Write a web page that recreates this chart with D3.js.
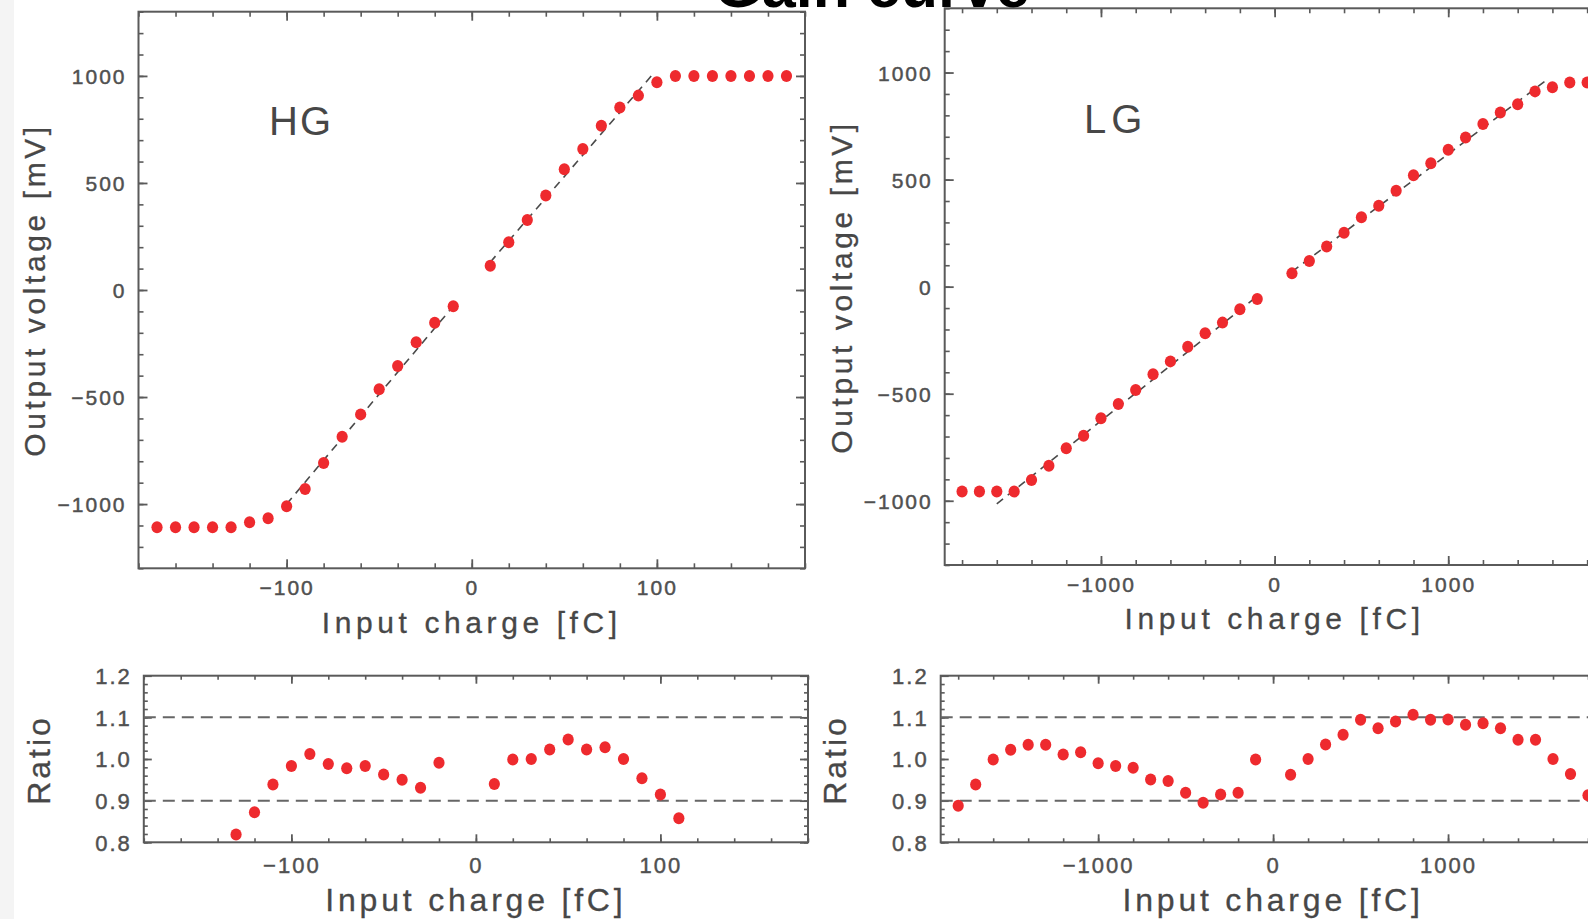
<!DOCTYPE html>
<html>
<head>
<meta charset="utf-8">
<script src="https://cdn.jsdelivr.net/npm/d3@7"></script>
<style>
  html, body { margin: 0; padding: 0; background: #fff; }
  svg { display: block; }
  text { font-family: "Liberation Sans", Arial, Helvetica, sans-serif; }
</style>
</head>
<body>
<svg id="chart" width="1588" height="919"></svg>
<script>
// ---- data ----------------------------------------------------------------
// High-gain channel: transfer curve (fC -> mV)
const hgCharge = [-170, -160, -150, -140, -130, -120, -110, -100, -90, -80, -70, -60, -50, -40, -30, -20, -10,
                  10, 20, 30, 40, 50, 60, 70, 80, 90, 100, 110, 120, 130, 140, 150, 160, 170];
const hgVoltage = [-1108, -1108, -1108, -1108, -1108, -1085, -1066, -1010, -930, -808, -685, -581, -464, -355, -244, -153, -76,
                   113, 223, 327, 441, 564, 659, 767, 853, 908, 970, 1000, 1000, 1000, 1000, 1000, 1000, 1000];
// linear fits of the two polarities
const hgFitNeg = [[-100, -1000], [-8, -55]];
const hgFitPos = [[10, 130], [98, 1010]];

// High-gain channel: ratio to the fit
const hgRatioCharge = [-130, -120, -110, -100, -90, -80, -70, -60, -50, -40, -30, -20,
                       10, 20, 30, 40, 50, 60, 70, 80, 90, 100, 110];
const hgRatio = [0.819, 0.872, 0.939, 0.983, 1.012, 0.988, 0.978, 0.983, 0.963, 0.950, 0.931, 0.991,
                 0.940, 0.999, 1.000, 1.023, 1.047, 1.023, 1.028, 1.000, 0.954, 0.915, 0.858];

// Low-gain channel: transfer curve (fC -> mV)
const lgCharge = [-1800, -1700, -1600, -1500, -1400, -1300, -1200, -1100, -1000, -900, -800, -700, -600, -500, -400, -300, -200, -100,
                  100, 200, 300, 400, 500, 600, 700, 800, 900, 1000, 1100, 1200, 1300, 1400, 1500, 1600, 1700, 1800];
const lgVoltage = [-957, -957, -957, -957, -903, -836, -755, -696, -615, -548, -483, -409, -349, -281, -218, -168, -106, -58,
                   62, 120, 187, 252, 324, 378, 448, 520, 576, 639, 697, 760, 813, 852, 912, 931, 953, 954];
const lgFitNeg = [[-1600, -1015], [-100, -45]];
const lgFitPos = [[100, 70], [1578, 972]];

// Low-gain channel: ratio to the fit
const lgRatioCharge = [-1800, -1700, -1600, -1500, -1400, -1300, -1200, -1100, -1000, -900, -800, -700, -600, -500, -400, -300, -200, -100,
                       100, 200, 300, 400, 500, 600, 700, 800, 900, 1000, 1100, 1200, 1300, 1400, 1500, 1600, 1700, 1800];
const lgRatio = [0.888, 0.939, 0.999, 1.022, 1.034, 1.034, 1.011, 1.016, 0.990, 0.983, 0.979, 0.951, 0.947, 0.919, 0.895, 0.915, 0.919, 0.999,
                 0.962, 1.000, 1.035, 1.058, 1.094, 1.074, 1.090, 1.106, 1.094, 1.095, 1.082, 1.086, 1.074, 1.046, 1.046, 1.000, 0.964, 0.913];

// ratio tolerance band
const ratioBand = [0.9, 1.1];

// axis labels / titles
const titleText = "Gain curve";
const xTitle = "Input charge [fC]";
const yTitleMain = "Output voltage [mV]";
const yTitleRatio = "Ratio";
const channelNames = ["HG", "LG"];

// ---- drawing -------------------------------------------------------------
const svg = d3.select("#chart");
svg.append("rect").attr("width", 1588).attr("height", 919).attr("fill", "#fff");
svg.append("rect").attr("x", 0).attr("y", 0).attr("width", 14).attr("height", 919).attr("fill", "#f4f4f4");

const AXIS = "#5a5a5a";
const TEXT = "#474747";
const DOT = "#ee2a2e";

function panel(o) {
  const g = svg.append("g");
  const x = d3.scaleLinear().domain(o.xDomain).range([o.left, o.right]);
  const y = d3.scaleLinear().domain(o.yDomain).range([o.bottom, o.top]);

  const fmtX = d3.format("d");
  const fmtY = o.yFmt;

  function tickAxis(axisFn, scale, major, minor, fmt, pos, labels, bigTick, smallTick) {
    // minor ticks
    const gm = g.append("g").attr("transform", pos)
      .call(axisFn(scale).tickValues(minor).tickSize(-smallTick).tickSizeOuter(0).tickFormat(""));
    gm.select(".domain").remove();
    gm.selectAll("line").attr("stroke", AXIS).attr("stroke-width", 1.6);
    // major ticks
    const ga = g.append("g").attr("transform", pos)
      .call(axisFn(scale).tickValues(major).tickSize(-bigTick).tickSizeOuter(0)
            .tickFormat(labels ? fmt : "").tickPadding(o.tickPad));
    ga.select(".domain").remove();
    ga.selectAll("line").attr("stroke", AXIS).attr("stroke-width", 1.8);
    ga.selectAll("text")
      .attr("fill", "#505050")
      .attr("stroke", "#505050")
      .attr("stroke-width", 0.45)
      .style("font-size", o.tickFont + "px")
      .style("letter-spacing", "2px");
    return ga;
  }

  const xMaj = o.xMajor, xMin = o.xMinor, yMaj = o.yMajor, yMin = o.yMinor;
  const bx = tickAxis(d3.axisBottom, x, xMaj, xMin, fmtX, `translate(0,${o.bottom})`, true, o.bigTick, o.smallTick);
  bx.selectAll("text").attr("dy", null).attr("y", o.xLabelDy);
  tickAxis(d3.axisTop, x, xMaj, xMin, fmtX, `translate(0,${o.top})`, false, o.bigTick, o.smallTick);
  const ly = tickAxis(d3.axisLeft, y, yMaj, yMin, fmtY, `translate(${o.left},0)`, true, o.bigTick, o.smallTick);
  ly.selectAll("text").attr("x", -o.yLabelGap).attr("dy", "0.36em");
  tickAxis(d3.axisRight, y, yMaj, yMin, fmtY, `translate(${o.right},0)`, false, o.bigTick, o.smallTick);

  // frame
  g.append("rect")
    .attr("x", o.left).attr("y", o.top)
    .attr("width", o.right - o.left).attr("height", o.bottom - o.top)
    .attr("fill", "none").attr("stroke", AXIS).attr("stroke-width", 2);

  // axis titles
  g.append("text")
    .attr("x", (o.left + o.right) / 2).attr("y", o.xTitleY)
    .attr("text-anchor", "middle")
    .attr("fill", TEXT)
    .attr("stroke", TEXT).attr("stroke-width", 0.3)
    .style("font-size", o.titleFont + "px")
    .style("letter-spacing", o.titleSpacing + "px")
    .text(xTitle);
  g.append("text")
    .attr("transform", `translate(${o.yTitleX},${o.yTitleY}) rotate(-90)`)
    .attr("text-anchor", "middle")
    .attr("fill", TEXT)
    .attr("stroke", TEXT).attr("stroke-width", 0.3)
    .style("font-size", o.yTitleFont + "px")
    .style("letter-spacing", o.yTitleSpacing + "px")
    .text(o.yTitle);

  return { g, x, y };
}

function dashed(p, pts, dash, width, color) {
  p.g.append("path")
    .datum(pts)
    .attr("d", d3.line().x(d => p.x(d[0])).y(d => p.y(d[1])))
    .attr("fill", "none")
    .attr("stroke", color)
    .attr("stroke-width", width)
    .attr("stroke-dasharray", dash);
}

function dots(p, xs, ys) {
  p.g.append("g").selectAll("ellipse")
    .data(xs.map((v, i) => [v, ys[i]]))
    .join("ellipse")
    .attr("cx", d => p.x(d[0]))
    .attr("cy", d => p.y(d[1]))
    .attr("rx", 5.6)
    .attr("ry", 6)
    .attr("fill", DOT);
}

const mainCommon = {
  yDomain: [-1300, 1300],
  yMajor: d3.range(-1000, 1001, 500),
  yMinor: d3.range(-1300, 1301, 100),
  yFmt: d3.format("d"),
  bigTick: 9, smallTick: 5, tickPad: 8,
  tickFont: 21, xLabelDy: 27, yLabelGap: 12,
  titleFont: 30, titleSpacing: 4.6,
  yTitle: yTitleMain, yTitleFont: 30, yTitleSpacing: 3.6
};
const ratioCommon = {
  yDomain: [0.8, 1.2],
  yMajor: d3.range(0.8, 1.2001, 0.1),
  yMinor: d3.range(0.8, 1.2001, 0.02),
  yFmt: d3.format(".1f"),
  bigTick: 8, smallTick: 4, tickPad: 8,
  tickFont: 22, xLabelDy: 31, yLabelGap: 12,
  titleFont: 32, titleSpacing: 3.8,
  yTitle: yTitleRatio, yTitleFont: 32, yTitleSpacing: 3
};

// HG transfer curve
const hgMain = panel(Object.assign({}, mainCommon, {
  left: 138.5, right: 805, top: 11.7, bottom: 568.3,
  xDomain: [-180, 180], xMajor: [-100, 0, 100], xMinor: d3.range(-180, 181, 20),
  xTitleY: 633, yTitleX: 45, yTitleY: 290
}));
dashed(hgMain, hgFitNeg, "8,6", 1.6, "#4a4a4a");
dashed(hgMain, hgFitPos, "8,6", 1.6, "#4a4a4a");
dots(hgMain, hgCharge, hgVoltage);
hgMain.g.append("text").attr("x", 269).attr("y", 135).attr("fill", TEXT)
  .style("font-size", "40px").style("letter-spacing", "2px").text(channelNames[0]);

// LG transfer curve
const lgMain = panel(Object.assign({}, mainCommon, {
  left: 944.7, right: 1604.5, top: 8.3, bottom: 565,
  xDomain: [-1900, 1900], xMajor: [-1000, 0, 1000], xMinor: d3.range(-1800, 1801, 200),
  xTitleY: 629, yTitleX: 852, yTitleY: 287
}));
dashed(lgMain, lgFitNeg, "8,6", 1.6, "#4a4a4a");
dashed(lgMain, lgFitPos, "8,6", 1.6, "#4a4a4a");
dots(lgMain, lgCharge, lgVoltage);
lgMain.g.append("text").attr("x", 1084).attr("y", 133).attr("fill", TEXT)
  .style("font-size", "40px").style("letter-spacing", "5px").text(channelNames[1]);

// HG ratio
const hgRat = panel(Object.assign({}, ratioCommon, {
  left: 143.8, right: 808, top: 675.7, bottom: 842.3,
  xDomain: [-180, 180], xMajor: [-100, 0, 100], xMinor: d3.range(-180, 181, 20),
  xTitleY: 911, yTitleX: 50, yTitleY: 760
}));
ratioBand.forEach(v => dashed(hgRat, [[-180, v], [180, v]], "12,7", 2, "#666"));
dots(hgRat, hgRatioCharge, hgRatio);

// LG ratio
const lgRat = panel(Object.assign({}, ratioCommon, {
  left: 940.7, right: 1605.5, top: 675.7, bottom: 842.3,
  xDomain: [-1900, 1900], xMajor: [-1000, 0, 1000], xMinor: d3.range(-1800, 1801, 200),
  xTitleY: 911, yTitleX: 846, yTitleY: 760
}));
ratioBand.forEach(v => dashed(lgRat, [[-1900, v], [1900, v]], "12,7", 2, "#666"));
dots(lgRat, lgRatioCharge, lgRatio);

// page title
svg.append("text")
  .attr("x", 872).attr("y", 7)
  .attr("text-anchor", "middle")
  .attr("fill", "#000")
  .style("font-size", "61px")
  .style("font-weight", "bold")
  .text(titleText);
</script>
</body>
</html>
